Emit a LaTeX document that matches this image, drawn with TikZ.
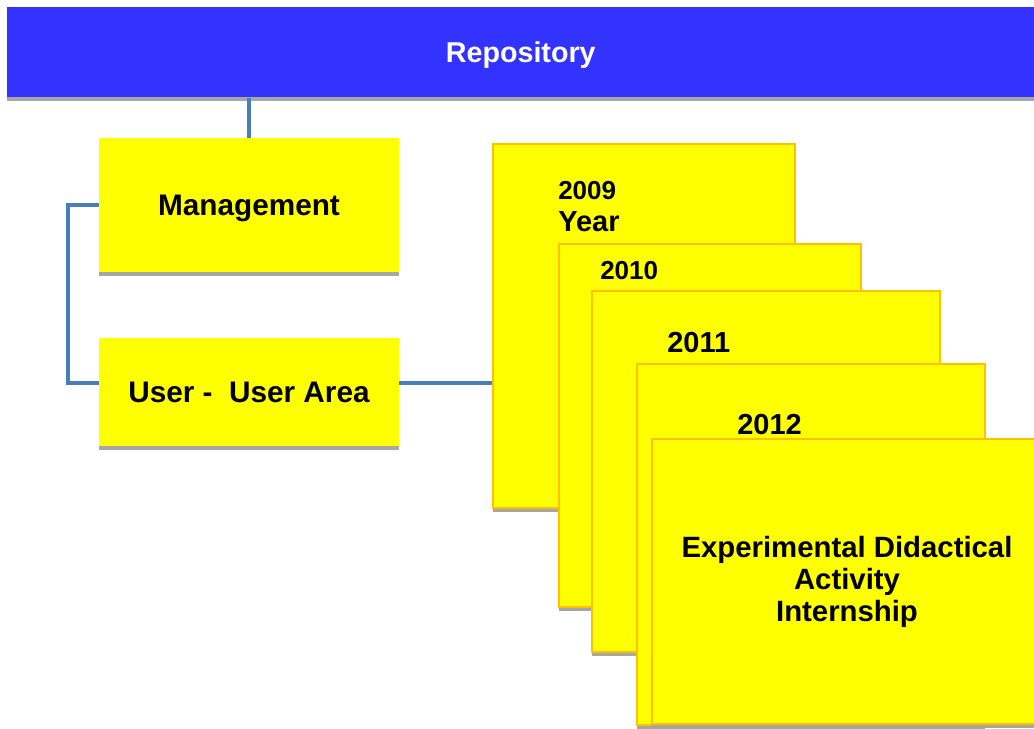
\documentclass[tikz,border=0pt]{standalone}
\usepackage{fontspec}
\setmainfont{Liberation Sans}
\usetikzlibrary{positioning,shadows}
\definecolor{barblue}{RGB}{51,51,255}
\definecolor{boxyellow}{RGB}{255,255,0}
\definecolor{rimorange}{RGB}{255,192,0}
\definecolor{wireblue}{RGB}{74,126,187}
\definecolor{shadowgray}{RGB}{166,166,166}
\tikzset{
	flat/.style={drop shadow={shadow xshift=0pt, shadow yshift=-3pt, fill=shadowgray, opacity=1}},
	headbar/.style={rectangle, fill=barblue, text=white, flat, minimum width=770.25pt, minimum height=67.5pt, text height=15.5pt, text depth=0pt, font=\bfseries\fontsize{21.5pt}{24pt}\selectfont},
	unitbox/.style={rectangle, fill=boxyellow, flat, minimum width=225pt, text height=16pt, text depth=0pt, font=\bfseries\fontsize{22.3pt}{24pt}\selectfont},
	yearbox/.style={rectangle, fill=boxyellow, draw=rimorange, line width=1.5pt, flat, anchor=north west, inner sep=0pt},
	yeartext/.style={anchor=base west, inner sep=0pt, font=\bfseries\fontsize{21.75pt}{24pt}\selectfont},
	smalltext/.style={yeartext, font=\bfseries\fontsize{19.5pt}{22pt}\selectfont},
	wire/.style={draw=wireblue, line width=3pt}
}
\begin{document}
\begin{tikzpicture}[x=0.75pt, y=-0.75pt]
	\clip (0,0) rectangle (1034,728);
	% Define nodes
	\node[headbar, anchor=north west] (head) at (7,7) {Repository};
	\node[unitbox, minimum height=100.5pt] (mgmt) at (249,205) {Management};
	\node[unitbox, minimum height=81pt]    (user) at (249,392) {User -\ \ User Area};
	% Years
	\node[yearbox, minimum width=226.5pt, minimum height=273pt]    (b2009) at (492,143) {};
	\node[smalltext] (n2009) at (558,199) {2009};
	\node[yeartext]  (nyear) at (558,231) {Year};
	\node[yearbox, minimum width=226.5pt, minimum height=272.25pt] (b2010) at (558,243) {};
	\node[smalltext] (n2010) at (600,279) {2010};
	\node[yearbox, minimum width=261pt, minimum height=270.75pt]   (b2011) at (591,290) {};
	\node[yeartext]  (n2011) at (667,352) {2011};
	\node[yearbox, minimum width=261pt, minimum height=270.75pt]   (b2012) at (636,363) {};
	\node[yeartext]  (n2012) at (737,434) {2012};
	\node[yearbox, minimum width=292.5pt, minimum height=213.75pt, align=center,
		font=\bfseries\fontsize{22pt}{24pt}\selectfont] (front) at (651,438)
		{Experimental Didactical\\Activity\\Internship};
	% Connect the nodes
	\draw[wire] (mgmt.north) -- (mgmt.north |- head.south);
	\draw[wire] (mgmt.west) -- ++(-31,0) |- ([yshift=6.75pt]user.west);
	\draw[wire] ([yshift=6.75pt]user.east) -- ([yshift=6.75pt]user.east -| b2009.west);
\end{tikzpicture}
\end{document}
